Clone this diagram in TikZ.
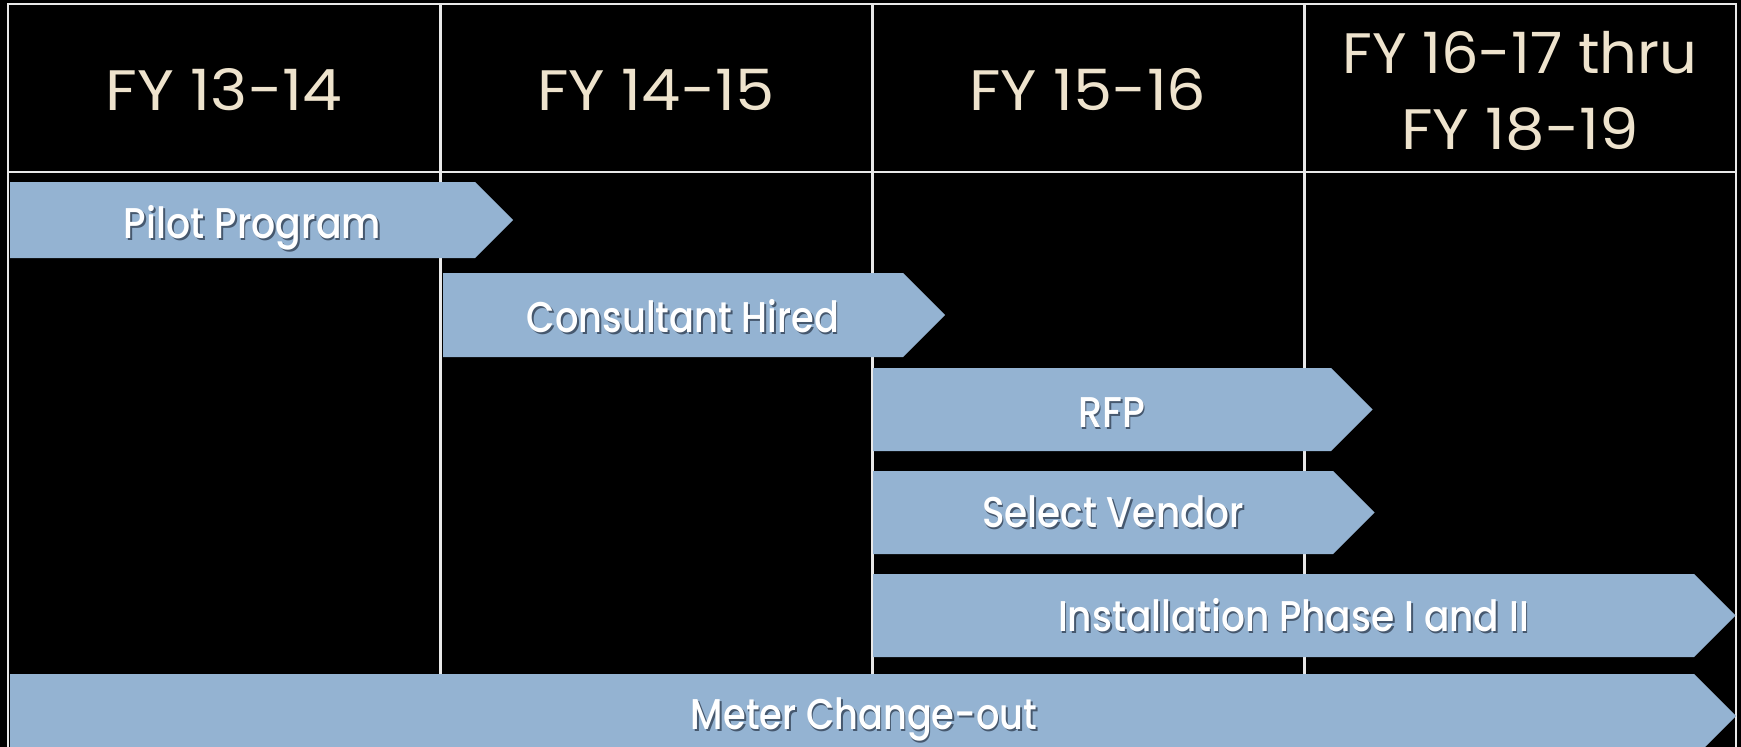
\documentclass[tikz,border=0pt]{standalone}
\usepackage{fontspec}
\setmainfont{Poppins}
\newfontfamily\taskfont{Poppins}[UprightFont=* Medium]
\usepackage{graphicx}
\definecolor{bar}{RGB}{148,179,210}
\definecolor{cream}{RGB}{238,227,205}
\definecolor{gridc}{RGB}{232,232,232}
\definecolor{shadowc}{RGB}{70,88,110}
\newcommand\fitw[2]{\resizebox{#1pt}{\height}{#2}}
\newcommand\shd[1]{\rlap{\kern2pt\raisebox{-2pt}{\color{shadowc}#1}}#1}
\newcommand\taskbar[4]{%
  \fill[bar] (#1,#3) -- (#2,#3) -- ({#2+(#4-#3)/2},{(#3+#4)/2}) -- (#2,#4) -- (#1,#4) -- cycle;}
\tikzset{
  gridline/.style={draw=gridc, line width=2.6pt},
  hdr/.style={text=cream, inner sep=0pt, anchor=base, font=\fontsize{57}{76}\selectfont},
  tasklbl/.style={text=white, inner sep=0pt, anchor=base, font=\taskfont\fontsize{43}{50}\selectfont},
}
\begin{document}
\begin{tikzpicture}[x=1pt,y=-1pt]
\fill[black] (0,0) rectangle (1741,747);
\useasboundingbox (0,0) rectangle (1741,747);
% grid
\draw[gridline] (8,4) rectangle (1736,770);
\draw[gridline] (8,172) -- (1736,172);
\draw[gridline] (440.5,4) -- (440.5,770);
\draw[gridline] (872.5,4) -- (872.5,770);
\draw[gridline] (1304.5,4) -- (1304.5,770);
% headers
\node[hdr] (h1) at (224,110) {\fitw{237}{FY 13-14}};
\node[hdr] (h2) at (656,110) {\fitw{237}{FY 14-15}};
\node[hdr] (h3) at (1088,110) {\fitw{237}{FY 15-16}};
\node[hdr, anchor=center, align=center] (h4) at (1520,91) {\fitw{355}{FY 16-17 thru}\\\fitw{238}{FY 18-19}};
% bars
\taskbar{10}{475}{182}{258}
\taskbar{443}{903}{273}{357}
\taskbar{873}{1331}{368}{451}
\taskbar{873}{1333}{471}{554}
\taskbar{873}{1694}{574}{657}
\taskbar{10}{1694}{674}{758}
% labels
\node[tasklbl] (t1) at (252.5,238) {\fitw{257}{\shd{Pilot Program}}};
\node[tasklbl] (t2) at (683,332) {\fitw{312}{\shd{Consultant Hired}}};
\node[tasklbl] (t3) at (1111.5,427) {\fitw{67}{\shd{RFP}}};
\node[tasklbl] (t4) at (1113,527) {\fitw{262}{\shd{Select Vendor}}};
\node[tasklbl] (t5) at (1293.5,631) {\fitw{471}{\shd{Installation Phase I and II}}};
\node[tasklbl] (t6) at (864,729) {\fitw{346}{\shd{Meter Change-out}}};
\end{tikzpicture}
\end{document}
